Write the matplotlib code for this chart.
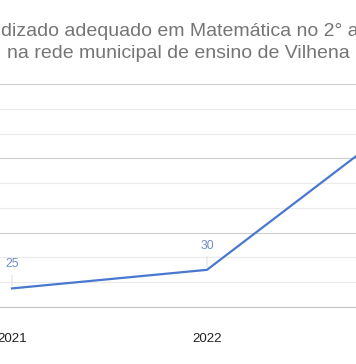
import matplotlib
matplotlib.use('Agg')
import matplotlib.pyplot as plt
from matplotlib.ticker import MultipleLocator

# dados (recorte do gráfico original)
anos = [2021, 2022, 2023]
percentual = [25, 30, 70]
rotulos = ['25', '30', '70']
titulo_l1 = 'dizado adequado em Matemática no 2° ano'
titulo_l2 = 'na rede municipal de ensino de Vilhena (2021-2023)'

plt.rcParams['font.family'] = ['Liberation Sans', 'DejaVu Sans']

W, H = 356, 364
fig = plt.figure(figsize=(W / 100, H / 100), dpi=100)

# área do gráfico: y=84px (80) até y=307px (20); 2021 em x=12px, 195px por ano
top_px, bot_px = 84, 307
ax = fig.add_axes([0, 1 - bot_px / H, 1, (bot_px - top_px) / H])

ax.plot(anos, percentual, color='#4a78cf', lw=1.6, solid_joinstyle='miter', zorder=3)

for a, v, r in zip(anos, percentual, rotulos):
    ax.annotate('', xy=(a, v), xytext=(0, 16), textcoords='offset pixels',
                arrowprops=dict(arrowstyle='-', color='#d8d8d8', lw=0.6))
    ax.annotate(r, xy=(a, v), xytext=(0, 18), textcoords='offset pixels',
                ha='center', va='bottom', fontsize=8.8, color='#6f8dc6')

ax.yaxis.set_major_locator(MultipleLocator(20))
ax.yaxis.set_minor_locator(MultipleLocator(20 / 3))
ax.grid(True, which='major', axis='y', color='#cccccc', lw=0.8)
ax.grid(True, which='minor', axis='y', color='#ebebeb', lw=0.8)
ax.set_axisbelow(True)

ax.set_xticks(anos)
ax.set_xticklabels([str(a) for a in anos])
# limites depois dos ticks (set_xticks alarga a vista)
x0 = 2021 - 12 / 195
ax.set_xlim(x0, x0 + W / 195)
ax.set_ylim(20, 80)

ax.tick_params(axis='x', length=0, pad=19, labelsize=9.6, labelcolor='#222222')
ax.tick_params(axis='y', which='both', length=0, labelleft=False)
for s in ['top', 'left', 'right']:
    ax.spines[s].set_visible(False)
ax.spines['bottom'].set_color('#c4c4c4')
ax.spines['bottom'].set_linewidth(0.8)

fig.text(1 / W, 1 - 35.5 / H, titulo_l1, ha='left', va='baseline',
         fontsize=14, color='#757575')
fig.text(7 / W, 1 - 58 / H, titulo_l2, ha='left', va='baseline',
         fontsize=14, color='#757575')

fig.savefig('out.png', dpi=100, facecolor='white')
